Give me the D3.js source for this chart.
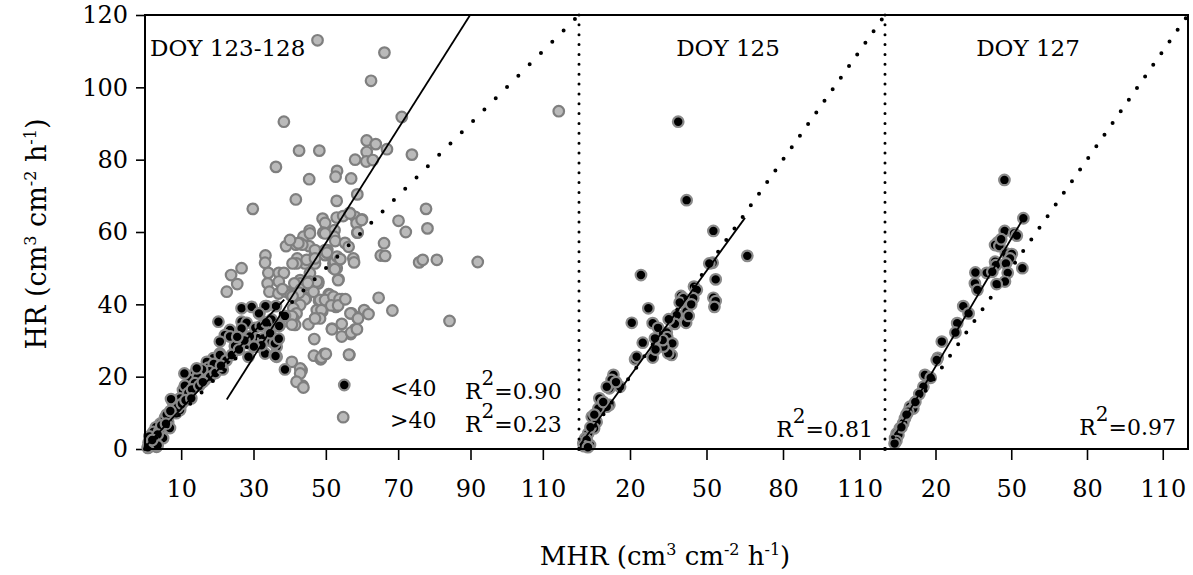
<!DOCTYPE html>
<html>
<head>
<meta charset="utf-8">
<script src="https://cdn.jsdelivr.net/npm/d3@7"></script>
<style>
  body { margin: 0; background: #fff; }
  text { font-family: "DejaVu Serif", serif; fill: #000; }
</style>
</head>
<body>
<svg id="chart" width="1193" height="575"></svg>
<script>
// tick labels
var yTicks = [0, 20, 40, 60, 80, 100, 120];
var xTicksAll = [10, 30, 50, 70, 90, 110];
var xTicksDay = [20, 50, 80, 110];

// DOY 123-128, MHR vs HR, grey = >40
var allOver40 = [
  [47.7,113.0],[66.2,109.6],[62.5,101.8],[38.4,90.5],[71.0,91.8],[114.4,93.4],
  [42.6,82.5],[48.2,82.5],[61.3,85.3],[63.8,84.3],[61.3,82.1],[66.9,82.9],[58.1,80.0],[61.2,79.5],[63.0,79.9],[73.8,81.4],
  [36.2,78.0],[53.1,76.9],[52.7,75.3],[45.4,74.6],[57.0,74.8],[58.7,70.4],[41.7,69.0],[53.0,68.6],
  [29.8,66.4],[49.1,63.7],[49.8,62.5],[53.0,64.0],[54.8,64.4],[56.6,65.3],[58.1,64.2],[60.0,63.5],[58.5,62.4],[70.1,63.1],
  [72.1,60.0],[52.4,60.5],[45.5,60.4],[49.3,59.8],[52.3,58.7],[52.6,57.5],[58.7,59.8],[43.8,58.7],[42.7,57.0],[41.7,56.5],
  [39.0,56.1],[45.4,56.1],[66.1,56.9],[50.4,55.0],[49.5,54.1],[33.3,53.5],[42.1,52.7],[47.1,53.2],[57.6,52.7],[65.2,53.5],[66.4,53.4],
  [77.7,66.4],[78.1,61.0],[75.8,51.6],[76.8,52.3],[80.7,52.3],[92.0,51.7],[84.2,35.4],
  [57.8,51.6],[53.5,46.9],[64.6,41.8],[68.4,38.3],[50.8,42.8],[52.3,41.7],[54.5,41.4],[52.8,39.3],[48.1,41.0],[44.5,41.7],
  [49.0,38.0],[47.1,36.2],[45.2,34.5],[57.1,37.5],[58.7,36.4],[60.6,38.4],[61.8,37.3],[54.4,34.6],[51.7,33.3],[58.1,33.1],
  [56.9,31.8],[54.4,31.1],[46.8,30.4],[56.5,26.0],[46.7,25.8],[49.6,26.3],[48.6,24.8],[43.3,21.8],[43.6,17.5],
  [45.6,59.6],[49.8,59.6],[43.5,56.5],[47.0,53.6],[49.8,53.6],[44.2,51.3],[47.0,51.3],[52.1,51.3],[52.1,50.0],[45.6,48.6],
  [47.9,46.3],[45.6,45.3],[42.9,46.7],
  [33.2,51.5],[26.7,50.0],[23.8,48.1],[25.5,45.6],[22.6,43.5],[34.1,48.7],[37.0,48.7],[38.4,48.7],[33.9,45.8],[34.4,43.5],
  [36.9,43.0],[39.0,43.5],[41.9,51.3],[44.7,52.3],[42.9,45.8],[45.6,46.3],[47.9,45.8],[46.6,43.5],[53.0,50.0],[44.2,41.4],
  [42.9,39.8],[41.0,38.9],[41.9,37.5],[41.0,36.1],[41.5,34.3],[48.4,41.2],[51.1,42.6],[40.6,24.1],[42.9,22.3],[42.9,20.9],
  [41.9,18.6],[43.8,17.0],[54.8,8.8],
  [56.7,65.1],[59.9,63.3],[58.8,59.9],[52.5,51.8],[52.5,49.7],[53.4,46.7],[47.0,55.0],[47.0,52.7],[47.5,46.3],[49.8,55.0],
  [50.3,54.3],[42.4,56.9],[40.1,57.8],[40.8,51.3],[41.3,45.8],[43.1,44.1],[45.0,45.9],[37.0,46.3],[38.0,44.2],[40.3,42.6],
  [42.6,43.2],[47.5,38.4],[48.8,38.4],[48.4,36.1],[47.0,36.1],[49.8,41.2],[52.1,42.1],[53.8,41.4],[51.5,39.7],[53.4,39.7],
  [55.4,41.4],[51.7,33.1],[56.8,37.5],[58.9,36.1],[57.0,32.2],[58.6,33.1],[48.8,25.3],[50.0,26.3],[56.4,26.1],
  [40.8,42.2],[40.6,36.7],[40.6,34.4],[53.1,53.2],[54.0,52.5],[55.3,57.0],[56.3,55.9],
  [0.8,0.3],[1.5,0.8],[2.5,1.2],[3.2,0.6],[1.0,1.8]
];

// DOY 123-128, black = <40
var allUnder40 = [
  [20.3,35.2],[26.7,38.9],[29.5,39.3],[33.6,39.5],[36.2,39.5],[31.6,37.5],[35.0,35.8],[37.3,34.3],[38.7,36.8],[26.7,35.2],
  [28.1,34.9],[26.7,33.3],[23.5,32.9],[22.1,31.5],[20.7,29.7],[24.9,28.3],[29.9,30.6],[31.3,28.3],[32.7,30.6],[34.6,32.4],
  [35.0,29.7],[36.4,28.3],[36.4,25.5],[33.2,26.4],[28.6,25.5],[20.7,26.4],[18.9,25.1],[17.1,24.1],[38.7,22.0],[16.1,21.8],
  [18.9,22.3],[24.9,28.5],[29.0,29.2],[32.2,28.7],[35.9,29.2],[35.9,26.0],[20.7,26.0],[17.5,22.5],[19.0,23.5],[17.8,21.5],
  [13.8,21.0],[15.8,22.0],[14.5,20.0],[12.4,19.1],[14.6,19.9],[10.5,16.3],[11.0,17.5],[13.8,18.2],[11.9,14.4],[7.7,13.0],
  [8.0,12.0],[9.7,14.0],[8.6,9.9],[9.7,10.8],[4.2,7.0],[5.5,8.6],[6.4,7.5],[3.0,6.0],[2.3,4.7],[4.0,5.0],[6.9,5.8],[5.0,3.0],
  [1.5,1.5],[0.8,0.5],[2.5,2.0],[3.5,1.0],[1.2,3.5],[7.2,13.8],[10.9,20.9],[14.3,22.3],[23.5,31.1],[33.3,39.5],[31.5,37.5],
  [37.1,34.0],[34.6,32.0],[29.0,31.1],[30.1,28.3],[36.1,25.7],[55.1,17.7],
  [9.0,11.5],[10.2,12.5],[12.0,15.5],[13.0,16.5],[15.0,17.5],[16.5,19.0],[18.0,20.0],[6.0,9.5],[7.0,10.5],[4.5,6.5],
  [3.5,4.0],[2.0,2.5],[5.8,7.0],[11.2,13.5],[12.8,14.0],[16.0,18.5],[19.5,21.0],[21.5,22.0],[22.5,24.5],[24.0,26.0],
  [26.0,27.5],[27.5,30.0],[25.5,31.0],[21.0,23.0],[30.5,33.5],[32.0,34.0],[33.5,35.0],[37.0,30.5]
];

var doy125 = [
  [38.9,90.5],[42.2,68.8],[52.7,60.3],[66.0,53.4],[24.3,48.1],[52.4,51.5],[51.1,51.3],[53.6,46.9],[52.7,41.8],[53.6,40.9],
  [53.1,39.3],[45.1,44.9],[46.2,44.0],[44.8,41.7],[40.0,42.3],[40.9,41.7],[42.5,39.8],[42.2,38.0],[42.0,34.9],[43.0,36.8],
  [38.3,37.0],[37.6,34.6],[35.2,35.9],[34.4,32.2],[34.6,30.9],[36.6,29.2],[36.3,26.0],[35.0,26.5],[32.4,29.4],[33.1,28.3],
  [32.8,30.1],[29.8,30.6],[27.2,38.9],[28.9,34.8],[20.7,34.9],[25.0,29.4],[28.9,25.3],[22.0,24.8],[22.6,25.5],[13.5,20.5],
  [12.8,19.1],[11.9,16.8],[10.9,17.2],[16.1,17.2],[8.0,14.0],[11.9,12.2],[10.9,11.7],[7.6,11.2],[5.0,8.9],[6.9,7.5],
  [5.9,5.7],[3.6,4.3],[2.4,2.9],[4.3,1.1],[1.7,1.6],[3.0,2.5],
  [31.0,33.5],[30.0,27.5],[39.5,40.5],[44.0,40.0],[14.5,18.5],[9.5,13.0],[4.5,6.0],[2.0,0.8],[3.5,0.5],[6.0,9.5]
];

var doy127 = [
  [47.3,74.4],[54.8,63.8],[47.4,60.3],[51.1,59.6],[52.2,59.0],[44.6,57.1],[43.6,56.4],[45.3,56.1],[47.9,54.1],[50.2,53.9],
  [49.5,52.7],[43.6,51.8],[43.9,50.8],[47.9,51.3],[54.4,50.0],[48.6,48.7],[47.5,46.3],[44.2,45.6],[35.8,48.8],[40.3,48.7],
  [35.6,45.8],[36.6,44.0],[31.0,39.5],[33.1,37.5],[28.6,34.8],[27.9,32.2],[22.5,29.7],[20.9,25.2],[20.5,24.6],[15.8,20.5],
  [18.1,19.7],[15.2,17.2],[13.6,15.2],[9.9,11.7],[11.2,11.2],[9.2,10.3],[7.9,8.5],[7.2,7.1],[5.9,5.7],[4.6,4.3],[4.0,3.0],
  [5.3,3.9],[42.5,49.0],[46.0,58.0],[12.0,13.0],[8.5,9.5],[6.5,6.0],[4.5,2.2],[3.8,1.5]
];

// fitted lines, end points [MHR, HR]
var fitUnder40 = [[0, 0.5], [38.5, 41.3]];
var fitOver40 = [[22.6, 13.7], [89.9, 120]];
var fit125 = [[0.4, 1.1], [65.1, 63.9]];
var fit127 = [[4.0, 3.9], [54.8, 63.8]];
var oneToOne = [[0, 0], [120, 120]];

var svg = d3.select("#chart");
var plotTop = 15, plotBottom = 449;
var y = d3.scaleLinear().domain([0, 120]).range([plotBottom, plotTop]);

var panels = [
  { x0: 145, x1: 579, ticks: xTicksAll, title: "DOY 123-128", tx: 150, anchor: "start", dash: "0,16",
    sets: [{ data: allOver40, fill: "#bababa", stroke: "#7f7f7f" }, { data: allUnder40, fill: "#000", stroke: "#8a8a8a" }],
    fits: [fitUnder40, fitOver40] },
  { x0: 579, x1: 885, ticks: xTicksDay, title: "DOY 125", tx: 728, anchor: "middle", dash: "0,14.2",
    sets: [{ data: doy125, fill: "#000", stroke: "#8a8a8a" }], fits: [fit125] },
  { x0: 885, x1: 1188, ticks: xTicksDay, title: "DOY 127", tx: 1028, anchor: "middle", dash: "0,14.2",
    sets: [{ data: doy127, fill: "#000", stroke: "#8a8a8a" }], fits: [fit127] }
];

panels.forEach(function(p) {
  p.x = d3.scaleLinear().domain([0, 120]).range([p.x0, p.x1]);
});

// y axis
var yAxis = svg.append("g")
    .attr("transform", "translate(145,0)")
    .call(d3.axisLeft(y).tickValues(yTicks).tickSize(9).tickPadding(8));
yAxis.select(".domain").remove();
yAxis.selectAll("line").attr("stroke-width", 1.6);
yAxis.selectAll("text").attr("font-size", 24).style("font-family", "DejaVu Serif");

panels.forEach(function(p) {
  var g = svg.append("g");

  var xAxis = g.append("g")
      .attr("transform", "translate(0," + plotBottom + ")")
      .call(d3.axisBottom(p.x).tickValues(p.ticks).tickSize(11).tickPadding(20));
  xAxis.select(".domain").remove();
  xAxis.selectAll("line").attr("stroke-width", 1.6);
  xAxis.selectAll("text").attr("font-size", 24).style("font-family", "DejaVu Serif");

  p.sets.forEach(function(s) {
    g.append("g").selectAll("circle")
        .data(s.data)
        .enter().append("circle")
        .attr("cx", function(d) { return p.x(d[0]); })
        .attr("cy", function(d) { return y(d[1]); })
        .attr("r", 5.3)
        .attr("fill", s.fill)
        .attr("stroke", s.stroke)
        .attr("stroke-width", 2.2);
  });

  var line = d3.line()
      .x(function(d) { return p.x(d[0]); })
      .y(function(d) { return y(d[1]); });

  g.append("path")
      .datum(oneToOne)
      .attr("d", line)
      .attr("fill", "none")
      .attr("stroke", "#000")
      .attr("stroke-width", 4)
      .attr("stroke-linecap", "round")
      .attr("stroke-dasharray", p.dash);

  p.fits.forEach(function(f) {
    g.append("path")
        .datum(f)
        .attr("d", line)
        .attr("fill", "none")
        .attr("stroke", "#000")
        .attr("stroke-width", 1.8);
  });

  g.append("text")
      .attr("x", p.tx)
      .attr("y", 56)
      .attr("text-anchor", p.anchor)
      .attr("font-size", 23)
      .text(p.title);
});

// frame
svg.append("path")
    .attr("d", "M145," + plotTop + "H1188V" + plotBottom + "H145Z")
    .attr("fill", "none")
    .attr("stroke", "#000")
    .attr("stroke-width", 2);

// dotted panel dividers
[579, 885].forEach(function(xv) {
  svg.append("line")
      .attr("x1", xv).attr("x2", xv)
      .attr("y1", plotTop).attr("y2", plotBottom)
      .attr("stroke", "#000")
      .attr("stroke-width", 3)
      .attr("stroke-linecap", "round")
      .attr("stroke-dasharray", "0,9.86");
});

// text with superscripts: parts = [[str, sup]]
function richText(x, yPos, parts, size, supSize, shift, anchor) {
  var t = svg.append("text")
      .attr("x", x).attr("y", yPos)
      .attr("font-size", size)
      .attr("text-anchor", anchor || "start");
  var up = false;
  parts.forEach(function(pt) {
    var s = t.append("tspan").text(pt[0]);
    if (pt[1] && !up) { s.attr("dy", -shift).attr("font-size", supSize); up = true; }
    else if (!pt[1] && up) { s.attr("dy", shift); up = false; }
    else if (pt[1]) { s.attr("font-size", supSize); }
  });
  return t;
}

svg.append("text").attr("x", 390).attr("y", 396).attr("font-size", 22).text("<40");
svg.append("text").attr("x", 390).attr("y", 428).attr("font-size", 22).text(">40");
richText(465, 399, [["R"], ["2", true], ["=0.90"]], 22, 20, 14);
richText(465, 432, [["R"], ["2", true], ["=0.23"]], 22, 20, 14);
richText(873, 437, [["R"], ["2", true], ["=0.81"]], 22, 20, 14, "end");
richText(1176, 435, [["R"], ["2", true], ["=0.97"]], 22, 20, 14, "end");

// axis titles
var unitParts = [[" (cm"], ["3", true], [" cm"], ["-2", true], [" h"], ["-1", true], [")"]];
richText(665, 565, [["MHR"]].concat(unitParts), 26, 16, 10, "middle");
richText(0, 0, [["HR"]].concat(unitParts), 27, 16, 10, "middle")
    .attr("transform", "translate(46,234) rotate(-90)");
</script>
</body>
</html>
